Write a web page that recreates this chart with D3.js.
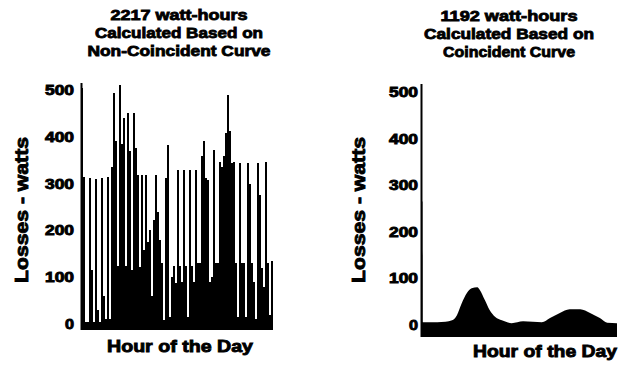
<!DOCTYPE html>
<html>
<head>
<meta charset="utf-8">
<script src="https://cdn.jsdelivr.net/npm/d3@7"></script>
<style>
  html, body { margin: 0; padding: 0; background: #fff; }
  svg { display: block; }
  text { font-family: "Liberation Sans", Arial, sans-serif; font-weight: bold; fill: #000; }
</style>
</head>
<body>
<svg id="chart" width="623" height="367"></svg>
<script>
// ---------- DATA ----------
const yTicks = [0, 100, 200, 300, 400, 500];

const leftTitle = ["2217 watt-hours", "Calculated Based on", "Non-Coincident Curve"];
const rightTitle = ["1192 watt-hours", "Calculated Based on", "Coincident Curve"];
const yLabel = "Losses - watts";
const xLabel = "Hour of the Day";

// Non-coincident curve: 15-minute intervals across the day (96 values)
const nonCoincidentLosses = [
  505, 315, 5, 5, 312, 115, 5, 310, 30, 5,
  312, 60, 10, 315, 10, 335, 493, 390, 125, 510,
  385, 440, 125, 450, 370, 115, 450, 376, 318, 122,
  318, 158, 318, 175, 200, 60, 222, 318, 240, 180,
  130, 8, 312, 382, 15, 100, 125, 87, 330, 125,
  90, 330, 125, 15, 330, 125, 90, 330, 130, 130,
  360, 390, 312, 308, 90, 100, 372, 130, 130, 346,
  335, 360, 408, 490, 412, 345, 346, 130, 15, 345,
  130, 130, 15, 345, 300, 130, 90, 10, 345, 275,
  120, 80, 346, 130, 20, 135
];
const intervals = d3.range(nonCoincidentLosses.length);

// Coincident curve: smooth daily profile
const coincidentHours = [0, 0.18, 0.22, 1.0, 2.0, 3.0, 3.8, 4.4, 5.0, 5.6, 6.2, 6.9, 7.2, 7.8, 8.4, 9.1, 9.9, 11.1, 12.5, 13.7, 14.8, 15.8, 17.0, 18.2, 19.5, 20.7, 21.9, 22.8, 24];
const coincidentLosses = [265, 265, 6, 6, 6, 7, 10, 21, 47, 68, 79, 81, 75, 54, 32, 17, 10, 4, 8, 7, 6, 15, 26, 34, 34, 26, 15, 5, 4];

// ---------- DRAW ----------
const svg = d3.select("#chart");

function boldText(sel, sw) {
  return sel.attr("stroke", "#000").attr("stroke-width", sw || 0.8).attr("lengthAdjust", "spacingAndGlyphs");
}

function title(lines, cx, baselines, widths) {
  lines.forEach((t, i) => {
    boldText(svg.append("text")
      .attr("x", cx).attr("y", baselines[i])
      .attr("text-anchor", "middle")
      .style("font-size", "14px")
      .attr("textLength", widths[i])
      .text(t));
  });
}

function yAxisLabels(y, xRight) {
  yTicks.forEach(v => {
    boldText(svg.append("text")
      .attr("x", xRight).attr("y", y(v))
      .attr("dy", "0.36em")
      .attr("text-anchor", "end")
      .style("font-size", "14px")
      .attr("textLength", v === 0 ? 9 : 29)
      .text(v), 0.9);
  });
}

function yTitle(cx, cy) {
  boldText(svg.append("text")
    .attr("transform", `translate(${cx},${cy}) rotate(-90)`)
    .attr("text-anchor", "middle")
    .attr("dy", "0.36em")
    .style("font-size", "19px")
    .attr("textLength", 146)
    .text(yLabel), 0.9);
}

function xTitle(cx, baseline, w) {
  boldText(svg.append("text")
    .attr("x", cx).attr("y", baseline)
    .attr("text-anchor", "middle")
    .style("font-size", "17px")
    .attr("textLength", w)
    .text(xLabel), 0.9);
}

// ---- Left chart: non-coincident ----
{
  const x = d3.scaleBand().domain(intervals).range([81, 273]).padding(0);
  const y = d3.scaleLinear().domain([0, 500]).range([324, 90]);

  svg.append("g").selectAll("rect")
    .data(intervals)
    .join("rect")
    .attr("x", i => x(i))
    .attr("width", x.bandwidth())
    .attr("y", i => y(nonCoincidentLosses[i]))
    .attr("height", i => y(0) - y(nonCoincidentLosses[i]))
    .attr("fill", "#000")
    .attr("shape-rendering", "crispEdges");

  // thick baseline
  svg.append("rect")
    .attr("x", 81).attr("y", y(0))
    .attr("width", x.range()[1] - 81).attr("height", 6)
    .attr("fill", "#000");

  // y axis line
  svg.append("line")
    .attr("x1", 81.5).attr("x2", 81.5)
    .attr("y1", 83).attr("y2", y(0) + 6)
    .attr("stroke", "#000").attr("stroke-width", 2);

  yAxisLabels(y, 74);
  yTitle(21, 210);
  xTitle(180, 352, 146);
  title(leftTitle, 179, [20, 38, 56], [137, 168, 183]);
}

// ---- Right chart: coincident ----
{
  const x = d3.scaleLinear().domain([0, 24]).range([421, 617]);
  const y = d3.scaleLinear().domain([0, 500]).range([325, 92]);

  const area = d3.area()
    .x((d, i) => x(coincidentHours[i]))
    .y0(y(0))
    .y1((d, i) => y(d))
    .curve(d3.curveMonotoneX);

  svg.append("path")
    .datum(coincidentLosses)
    .attr("d", area)
    .attr("fill", "#000");

  // thick baseline
  svg.append("rect")
    .attr("x", x(0)).attr("y", y(0))
    .attr("width", x(24) - x(0)).attr("height", 12)
    .attr("fill", "#000");

  svg.append("line")
    .attr("x1", 421.5).attr("x2", 421.5)
    .attr("y1", 84).attr("y2", y(0) + 12)
    .attr("stroke", "#000").attr("stroke-width", 2);

  yAxisLabels(y, 418);
  yTitle(358, 210);
  xTitle(545, 357, 144);
  title(rightTitle, 509, [21, 39, 57], [137, 170, 132]);
}
</script>
</body>
</html>
